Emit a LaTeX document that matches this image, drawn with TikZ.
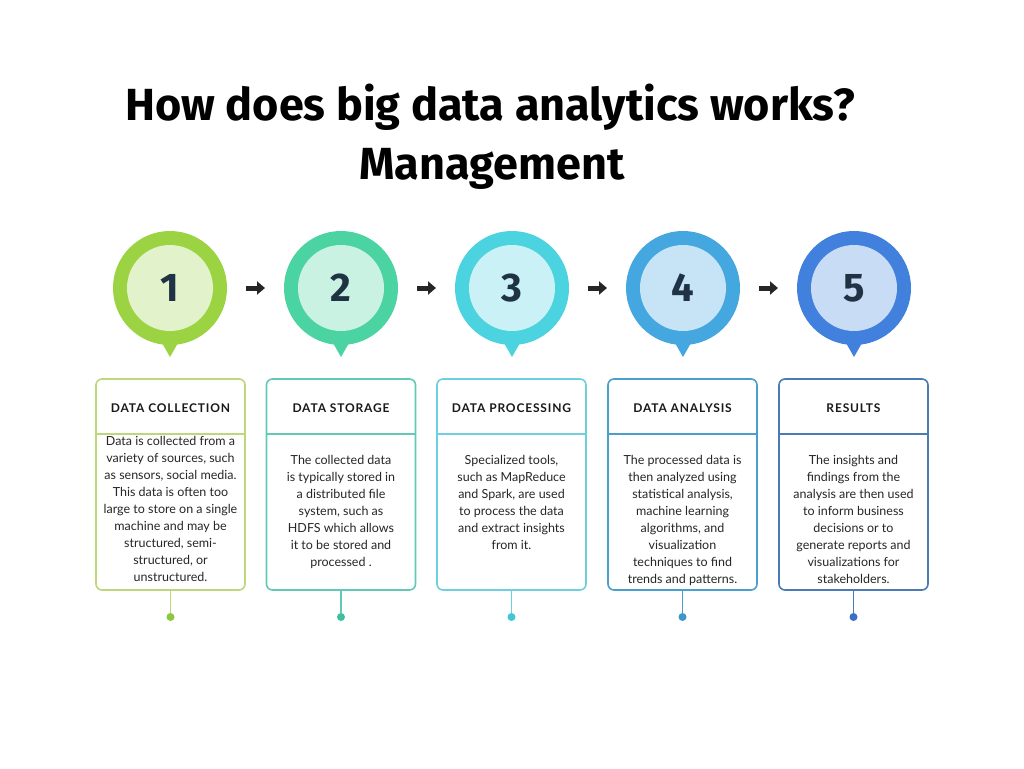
\documentclass[tikz,border=0pt]{standalone}
\usepackage{fontspec}
\setmainfont{Lato}
\newfontfamily\titlefont{Fira Sans}
\newfontfamily\bodyfont{Lato}
\newfontfamily\headfont[LetterSpace=7]{Lato}
\usetikzlibrary{arrows.meta,positioning,calc}
\definecolor{limering}{HTML}{9CD343}
\definecolor{limecore}{HTML}{E2F3CB}
\definecolor{limeline}{HTML}{BCD87A}
\definecolor{limedot}{HTML}{8DC63F}
\definecolor{mintring}{HTML}{4CD3A2}
\definecolor{mintcore}{HTML}{C9F2E2}
\definecolor{mintline}{HTML}{62C9B6}
\definecolor{mintdot}{HTML}{3EBFA0}
\definecolor{cyanring}{HTML}{4BD3E0}
\definecolor{cyancore}{HTML}{C9F1F6}
\definecolor{cyanline}{HTML}{6ED0DE}
\definecolor{cyandot}{HTML}{40C6D4}
\definecolor{skyring}{HTML}{44A7E0}
\definecolor{skycore}{HTML}{C6E4F6}
\definecolor{skyline}{HTML}{4B9FCB}
\definecolor{skydot}{HTML}{3B97CE}
\definecolor{royalring}{HTML}{4180DD}
\definecolor{royalcore}{HTML}{C9DCF6}
\definecolor{royalline}{HTML}{4A7BB2}
\definecolor{royaldot}{HTML}{3C6FC8}
\definecolor{ink}{HTML}{1F3344}

\begin{document}
\begin{tikzpicture}[x=1pt,y=-1pt,
  every node/.style={inner sep=0pt,outer sep=0pt},
  ring/.style={circle,minimum size=114pt},
  core/.style={circle,minimum size=86pt,text=ink,font=\titlefont\bfseries\fontsize{40}{40}\selectfont},
  card/.style={draw,line width=1.6pt,rounded corners=6pt,minimum width=149pt,minimum height=211pt},
  head/.style={font=\headfont\bfseries\fontsize{12}{14}\selectfont,text=black!90},
  body/.style={font=\bodyfont\fontsize{12.5}{17}\selectfont,align=center,anchor=north,text=black!85},
  flow/.style={-{Triangle[length=8pt,width=13pt]},line width=5pt,black!85,shorten <=19pt,shorten >=19pt},
  stem/.style={line width=1.6pt},
  dot/.style={circle,minimum size=8pt}]
\fill[white] (0,0) rectangle (1024,768);
\useasboundingbox (0,0) rectangle (1024,768);

% title
\node[anchor=base,font=\titlefont\bfseries\fontsize{45}{45}\selectfont] (title) at (490,120) {How does big data analytics works?};
\node[anchor=base,font=\titlefont\bfseries\fontsize{45}{45}\selectfont] (subtitle) at (492,179) {Management};

% pins
\node[ring,fill=limering] (p1) at (170,288) {};
\node[ring,fill=mintring] (p2) at (341,288) {};
\node[ring,fill=cyanring] (p3) at (512,288) {};
\node[ring,fill=skyring] (p4) at (683,288) {};
\node[ring,fill=royalring] (p5) at (854,288) {};
\fill[limering] ($(p1.center)+(-12,48)$) -- ($(p1.center)+(0,69)$) -- ($(p1.center)+(12,48)$) -- cycle;
\fill[mintring] ($(p2.center)+(-12,48)$) -- ($(p2.center)+(0,69)$) -- ($(p2.center)+(12,48)$) -- cycle;
\fill[cyanring] ($(p3.center)+(-12,48)$) -- ($(p3.center)+(0,69)$) -- ($(p3.center)+(12,48)$) -- cycle;
\fill[skyring] ($(p4.center)+(-12,48)$) -- ($(p4.center)+(0,69)$) -- ($(p4.center)+(12,48)$) -- cycle;
\fill[royalring] ($(p5.center)+(-12,48)$) -- ($(p5.center)+(0,69)$) -- ($(p5.center)+(12,48)$) -- cycle;
\node[core,fill=limecore] (n1) at (p1) {1};
\node[core,fill=mintcore] (n2) at (p2) {2};
\node[core,fill=cyancore] (n3) at (p3) {3};
\node[core,fill=skycore] (n4) at (p4) {4};
\node[core,fill=royalcore] (n5) at (p5) {5};
\draw[flow] (p1) -- (p2);
\draw[flow] (p2) -- (p3);
\draw[flow] (p3) -- (p4);
\draw[flow] (p4) -- (p5);

% cards
\node[card,draw=limeline] (b1) at (170.5,484.5) {};
\node[card,draw=mintline] (b2) at (341,484.5) {};
\node[card,draw=cyanline] (b3) at (511.5,484.5) {};
\node[card,draw=skyline] (b4) at (682.5,484.5) {};
\node[card,draw=royalline] (b5) at (853.5,484.5) {};
\draw[stem,limeline] ($(b1.north west)+(0,55)$) -- ($(b1.north east)+(0,55)$);
\draw[stem,mintline] ($(b2.north west)+(0,55)$) -- ($(b2.north east)+(0,55)$);
\draw[stem,cyanline] ($(b3.north west)+(0,55)$) -- ($(b3.north east)+(0,55)$);
\draw[stem,skyline] ($(b4.north west)+(0,55)$) -- ($(b4.north east)+(0,55)$);
\draw[stem,royalline] ($(b5.north west)+(0,55)$) -- ($(b5.north east)+(0,55)$);
\node[head] (h1) at ($(b1.north)+(0,29)$) {DATA COLLECTION};
\node[head] (h2) at ($(b2.north)+(0,29)$) {DATA STORAGE};
\node[head] (h3) at ($(b3.north)+(0,29)$) {DATA PROCESSING};
\node[head] (h4) at ($(b4.north)+(0,29)$) {DATA ANALYSIS};
\node[head] (h5) at ($(b5.north)+(0,29)$) {RESULTS};
\node[body] (t1) at ($(b1.north)+(0,57)$) {Data is collected from a\\variety of sources, such\\as sensors, social media.\\This data is often too\\large to store on a single\\machine and may be\\structured, semi-\\structured, or\\unstructured.};
\node[body] (t2) at ($(b2.north)+(0,76)$) {The collected data\\is typically stored in\\a distributed file\\system, such as\\HDFS which allows\\it to be stored and\\processed .};
\node[body] (t3) at ($(b3.north)+(0,76)$) {Specialized tools,\\such as MapReduce\\and Spark, are used\\to process the data\\and extract insights\\from it.};
\node[body] (t4) at ($(b4.north)+(0,76)$) {The processed data is\\then analyzed using\\statistical analysis,\\machine learning\\algorithms, and\\visualization\\techniques to find\\trends and patterns.};
\node[body] (t5) at ($(b5.north)+(0,76)$) {The insights and\\findings from the\\analysis are then used\\to inform business\\decisions or to\\generate reports and\\visualizations for\\stakeholders.};

% stems
\node[dot,fill=limedot] (d1) at ($(b1.south)+(0,27)$) {};
\node[dot,fill=mintdot] (d2) at ($(b2.south)+(0,27)$) {};
\node[dot,fill=cyandot] (d3) at ($(b3.south)+(0,27)$) {};
\node[dot,fill=skydot] (d4) at ($(b4.south)+(0,27)$) {};
\node[dot,fill=royaldot] (d5) at ($(b5.south)+(0,27)$) {};
\draw[stem,limeline] (b1) -- (d1);
\draw[stem,mintline] (b2) -- (d2);
\draw[stem,cyanline] (b3) -- (d3);
\draw[stem,skyline] (b4) -- (d4);
\draw[stem,royalline] (b5) -- (d5);
\end{tikzpicture}
\end{document}
